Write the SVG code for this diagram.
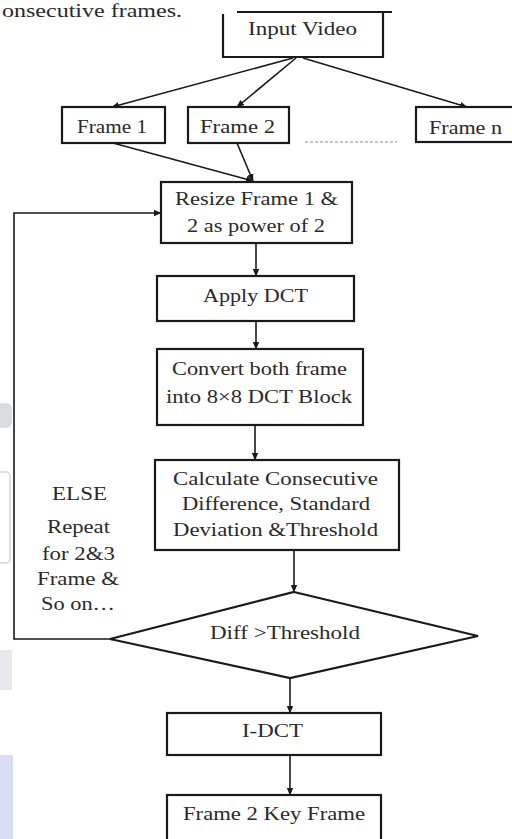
<svg xmlns="http://www.w3.org/2000/svg" width="512" height="839" viewBox="0 0 512 839">
<style>
.box{fill:#fff;stroke:#1a1a1a;stroke-width:2.2}
.t{font-family:"Liberation Serif","Times New Roman",serif;font-size:19px;fill:#2a2a2a}
.c{fill:none;stroke:#1a1a1a;stroke-width:1.6}
</style>
<defs>
<marker id="ah" markerWidth="8" markerHeight="8" refX="7" refY="4" orient="auto" markerUnits="userSpaceOnUse">
<path d="M0,0.8 L7.5,4 L0,7.2 Z" fill="#1a1a1a"/>
</marker>
</defs>
<rect width="512" height="839" fill="#fff"/>
<g id="bg-marks">
<rect x="-4" y="403" width="16" height="25" rx="6" fill="#c9ced6" opacity="0.7"/>
<rect x="-6" y="472" width="16" height="91" rx="4" fill="none" stroke="#d4d6dc" stroke-width="1.5"/>
<rect x="0" y="650" width="12" height="40" fill="#e6e8ec"/>
<rect x="0" y="755" width="13" height="84" fill="#d8dcf4"/>
</g>
<text class="t" x="2" y="17" font-size="15" textLength="180" lengthAdjust="spacingAndGlyphs" fill="#111">onsecutive frames.</text>
<g id="connectors">
<line class="c" x1="293" y1="58" x2="112" y2="107" marker-end="url(#ah)"/>
<line class="c" x1="296" y1="58" x2="237" y2="107" marker-end="url(#ah)"/>
<line class="c" x1="303" y1="58" x2="467" y2="107" marker-end="url(#ah)"/>
<line class="c" x1="113" y1="143" x2="253" y2="181" marker-end="url(#ah)"/>
<line class="c" x1="237" y1="143" x2="253" y2="181" marker-end="url(#ah)"/>
<line class="c" x1="256" y1="243" x2="256" y2="276" marker-end="url(#ah)"/>
<line class="c" x1="256" y1="321" x2="256" y2="349" marker-end="url(#ah)"/>
<line class="c" x1="255" y1="425" x2="255" y2="460" marker-end="url(#ah)"/>
<line class="c" x1="294" y1="550" x2="294" y2="592" marker-end="url(#ah)"/>
<line class="c" x1="290" y1="678" x2="290" y2="713" marker-end="url(#ah)"/>
<line class="c" x1="290" y1="755" x2="290" y2="795" marker-end="url(#ah)"/>
<path class="c" d="M110,639 H14 V213 H161" marker-end="url(#ah)"/>
<line x1="305" y1="142" x2="397" y2="142" stroke="#888" stroke-width="1" stroke-dasharray="3,2"/>
</g>
<g id="input-video">
<path d="M237,12 H392 M223,14 V57 H383 V12" fill="none" stroke="#1a1a1a" stroke-width="2.2"/>
<text class="t" x="248" y="35" textLength="109" lengthAdjust="spacingAndGlyphs">Input Video</text>
</g>
<g id="frame1">
<rect class="box" x="62" y="107" width="103" height="36"/>
<text class="t" x="77" y="133" textLength="70" lengthAdjust="spacingAndGlyphs">Frame 1</text>
</g>
<g id="frame2">
<rect class="box" x="188" y="107" width="101" height="36"/>
<text class="t" x="200" y="133" textLength="75" lengthAdjust="spacingAndGlyphs">Frame 2</text>
</g>
<g id="framen">
<rect class="box" x="416" y="107" width="110" height="35"/>
<text class="t" x="429" y="134" textLength="73" lengthAdjust="spacingAndGlyphs">Frame n</text>
</g>
<g id="resize">
<rect class="box" x="161" y="182" width="191" height="61"/>
<text class="t" x="175" y="205" textLength="163" lengthAdjust="spacingAndGlyphs">Resize Frame 1 &amp;</text>
<text class="t" x="187" y="232" textLength="138" lengthAdjust="spacingAndGlyphs">2 as power of 2</text>
</g>
<g id="apply-dct">
<rect class="box" x="157" y="276" width="197" height="45"/>
<text class="t" x="203" y="302" textLength="105" lengthAdjust="spacingAndGlyphs">Apply DCT</text>
</g>
<g id="convert">
<rect class="box" x="157" y="349" width="206" height="76"/>
<text class="t" x="172" y="375" textLength="175" lengthAdjust="spacingAndGlyphs">Convert both frame</text>
<text class="t" x="166" y="403" textLength="186" lengthAdjust="spacingAndGlyphs">into 8×8 DCT Block</text>
</g>
<g id="calculate">
<rect class="box" x="155" y="460" width="244" height="90"/>
<text class="t" x="173" y="485" textLength="205" lengthAdjust="spacingAndGlyphs">Calculate Consecutive</text>
<text class="t" x="182" y="510" textLength="188" lengthAdjust="spacingAndGlyphs">Difference, Standard</text>
<text class="t" x="173" y="536" textLength="205" lengthAdjust="spacingAndGlyphs">Deviation &amp;Threshold</text>
</g>
<g id="else-label">
<text class="t" x="52" y="500" textLength="55" lengthAdjust="spacingAndGlyphs" fill="#444">ELSE</text>
<text class="t" x="47" y="533" textLength="63" lengthAdjust="spacingAndGlyphs" fill="#444">Repeat</text>
<text class="t" x="42" y="560" textLength="73" lengthAdjust="spacingAndGlyphs" fill="#444">for 2&amp;3</text>
<text class="t" x="37" y="585" textLength="82" lengthAdjust="spacingAndGlyphs" fill="#444">Frame &amp;</text>
<text class="t" x="41" y="610" textLength="74" lengthAdjust="spacingAndGlyphs" fill="#444">So on…</text>
</g>
<g id="decision">
<polygon class="box" points="294,592 478,636 290,678 110,639"/>
<text class="t" x="210" y="639" textLength="150" lengthAdjust="spacingAndGlyphs">Diff &gt;Threshold</text>
</g>
<g id="idct">
<rect class="box" x="167" y="713" width="214" height="42"/>
<text class="t" x="242" y="737" textLength="61" lengthAdjust="spacingAndGlyphs">I-DCT</text>
</g>
<g id="keyframe">
<rect class="box" x="167" y="795" width="214" height="60"/>
<text class="t" x="183" y="820" textLength="182" lengthAdjust="spacingAndGlyphs">Frame 2 Key Frame</text>
</g>
</svg>
